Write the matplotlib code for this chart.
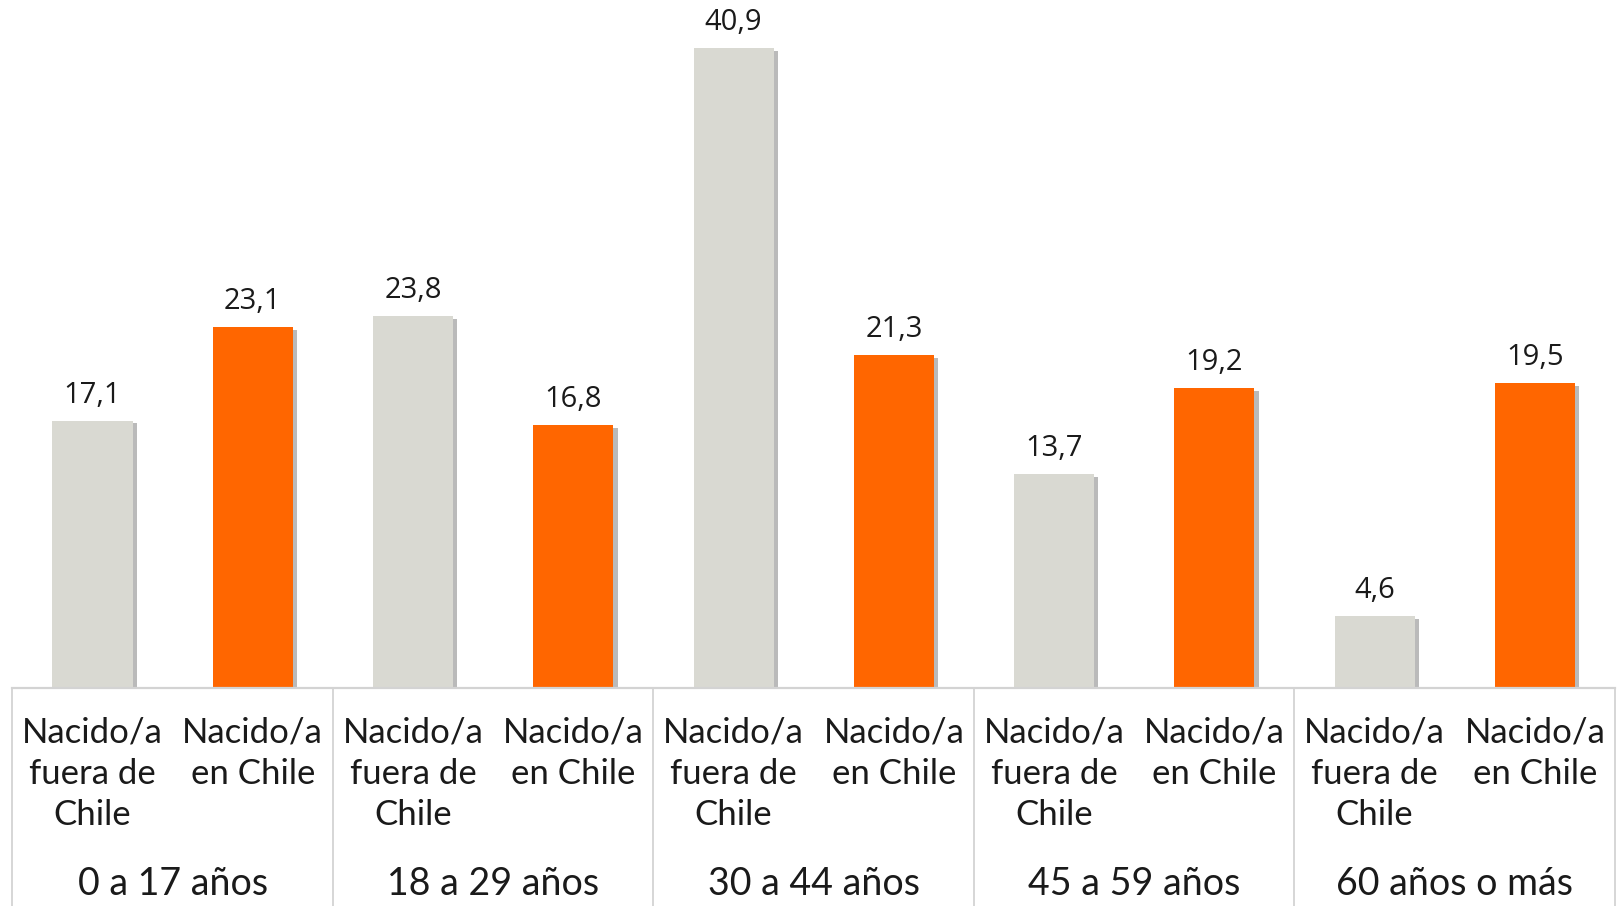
import matplotlib
matplotlib.use('Agg')
import matplotlib.pyplot as plt
from matplotlib import patheffects as pe
from matplotlib.transforms import blended_transform_factory

# Datos del gráfico
grupos = ['0 a 17 años', '18 a 29 años', '30 a 44 años', '45 a 59 años', '60 años o más']
categorias = ['Nacido/a\nfuera de\nChile', 'Nacido/a\nen Chile']
fuera_chile = [17.1, 23.8, 40.9, 13.7, 4.6]
en_chile = [23.1, 16.8, 21.3, 19.2, 19.5]

gris = '#D9D9D2'
naranja = '#FF6600'
linea = '#D3D3D3'

W, H = 1617, 906
fig = plt.figure(figsize=(W / 100, H / 100), dpi=100)
base_px = 688
ax = fig.add_axes([12.4 / W, (H - base_px) / H, (1615 - 12.4) / W, base_px / H])

sombra = [pe.SimplePatchShadow(offset=(3, -2), shadow_rgbFace='#666666', alpha=0.45), pe.Normal()]

valores = []
colores = []
for f, c in zip(fuera_chile, en_chile):
    valores += [f, c]
    colores += [gris, naranja]
xs = list(range(len(valores)))

bars = ax.bar(xs, valores, width=0.5, color=colores, zorder=2)
for b in bars:
    b.set_path_effects(sombra)

for x, v in zip(xs, valores):
    ax.annotate(f'{v:.1f}'.replace('.', ','), (x, v), xytext=(0, 8), textcoords='offset points',
                ha='center', va='bottom', fontsize=21, family='Open Sans', color='#1a1a1a')

ax.set_xlim(-0.5, len(valores) - 0.5)
ax.set_ylim(0, 44)
ax.axis('off')

trans = blended_transform_factory(ax.transData, ax.transAxes)
# linea base
ax.plot([-0.5, len(valores) - 0.5], [0, 0], transform=trans, color=linea, lw=1.6, clip_on=False, zorder=3)
# separadores verticales
for k in range(len(grupos) + 1):
    xv = -0.5 + 2 * k
    ax.plot([xv, xv], [0, -(H - base_px) / base_px], transform=trans, color=linea, lw=1.3, clip_on=False)

for x in xs:
    ax.text(x, -29 / base_px, categorias[x % 2], transform=trans, ha='center', va='top',
            fontsize=25, family='Lato', color='#1a1a1a', linespacing=1.34)

for i, g in enumerate(grupos):
    ax.text(2 * i + 0.5, -(895 - base_px) / base_px, g, transform=trans, ha='center', va='baseline',
            fontsize=27, family='Lato', color='#1a1a1a')

fig.savefig('out.png', dpi=100, facecolor='white')
